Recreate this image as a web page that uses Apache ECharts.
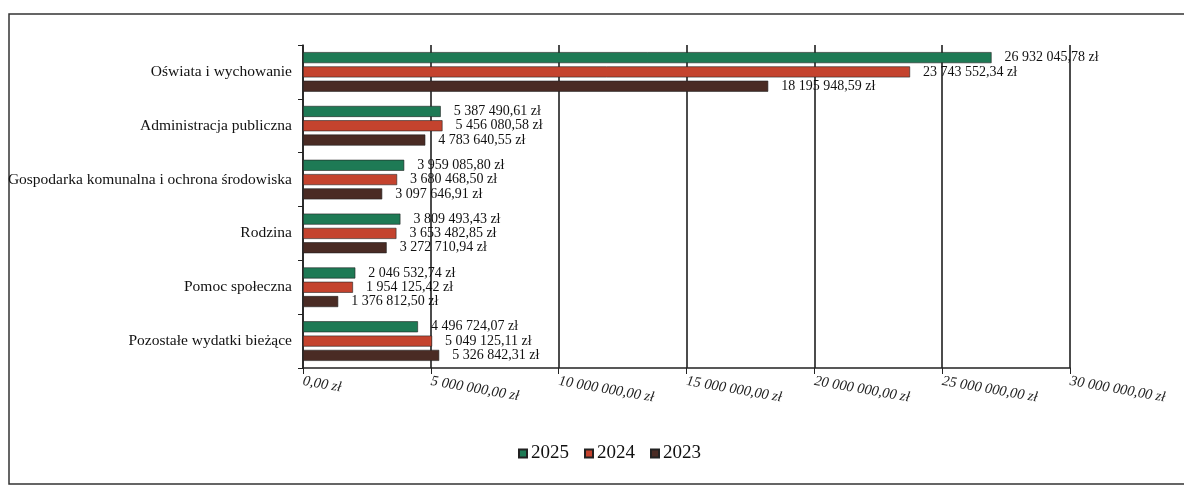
<!DOCTYPE html>
<html>
<head>
<meta charset="utf-8">
<script src="https://cdn.jsdelivr.net/npm/echarts@6/dist/echarts.min.js"></script>
<style>
  html, body { margin: 0; padding: 0; background: #fff; }
  #wydatki_chart { width: 1184px; height: 486px; }
</style>
</head>
<body>
<div id="wydatki_chart"></div>
<script>
const categories = [
  "Oświata i wychowanie",
  "Administracja publiczna",
  "Gospodarka komunalna i ochrona środowiska",
  "Rodzina",
  "Pomoc społeczna",
  "Pozostałe wydatki bieżące"
];
const values2025 = [26932045.78, 5387490.61, 3959085.80, 3809493.43, 2046532.74, 4496724.07];
const values2024 = [23743552.34, 5456080.58, 3680468.50, 3653482.85, 1954125.42, 5049125.11];
const values2023 = [18195948.59, 4783640.55, 3097646.91, 3272710.94, 1376812.50, 5326842.31];
const years = ["2025", "2024", "2023"];

const serif = "Liberation Serif, DejaVu Serif, serif";

// kwota w formacie "1 234 567,89 zł"
function zl(v) {
  const parts = v.toFixed(2).split(".");
  const intPart = parts[0].replace(/\B(?=(\d{3})+(?!\d))/g, " ");
  return intPart + "," + parts[1] + " zł";
}

function barSeries(name, data, color) {
  return {
    name: name,
    type: "bar",
    data: data,
    barWidth: 11,
    barGap: "30%",
    itemStyle: { color: color, borderColor: "#222", borderWidth: 0.6 },
    label: {
      show: true,
      position: "right",
      distance: 13,
      fontFamily: serif,
      fontSize: 14,
      color: "#111",
      formatter: function (p) { return zl(p.value); }
    }
  };
}

const option = {
  backgroundColor: "#fff",
  animation: false,
  color: ["#1e7a55", "#c4432e", "#4a2b24"],
  graphic: [
    {
      type: "rect",
      shape: { x: 9, y: 14, width: 1185, height: 470 },
      style: { fill: "none", stroke: "#333", lineWidth: 1.5 },
      silent: true,
      z: -1
    }
  ],
  legend: {
    data: years,
    bottom: 18,
    left: 513,
    itemWidth: 8,
    itemHeight: 8,
    itemGap: 15,
    icon: "rect",
    textStyle: { fontFamily: serif, fontSize: 19, color: "#111", padding: [0, 0, 0, -1] }
  },
  grid: {
    left: 303,
    right: 114,
    top: 45,
    bottom: 118
  },
  xAxis: {
    type: "value",
    min: 0,
    max: 30000000,
    interval: 5000000,
    axisLine: { show: true, lineStyle: { color: "#222", width: 1.5 } },
    axisTick: { show: true, length: 6, lineStyle: { color: "#222" } },
    splitLine: { show: true, lineStyle: { color: "#111", width: 1.5 } },
    axisLabel: {
      rotate: -10,
      margin: 13,
      fontFamily: serif,
      fontStyle: "italic",
      fontSize: 14.5,
      color: "#222",
      formatter: function (v) { return zl(v); }
    }
  },
  yAxis: {
    type: "category",
    data: categories,
    inverse: true,
    axisLine: { show: true, lineStyle: { color: "#222", width: 1.5 } },
    axisTick: { show: true, length: 5, lineStyle: { color: "#222" } },
    axisLabel: {
      margin: 11,
      fontFamily: serif,
      fontSize: 15.5,
      color: "#111"
    }
  },
  series: [
    barSeries("2025", values2025, "#1e7a55"),
    barSeries("2024", values2024, "#c4432e"),
    barSeries("2023", values2023, "#4a2b24")
  ]
};

const wydatkiChart = echarts.init(document.getElementById("wydatki_chart"));
wydatkiChart.setOption(option);
window.addEventListener("resize", function () {
  wydatkiChart.resize();
});
</script>
</body>
</html>
